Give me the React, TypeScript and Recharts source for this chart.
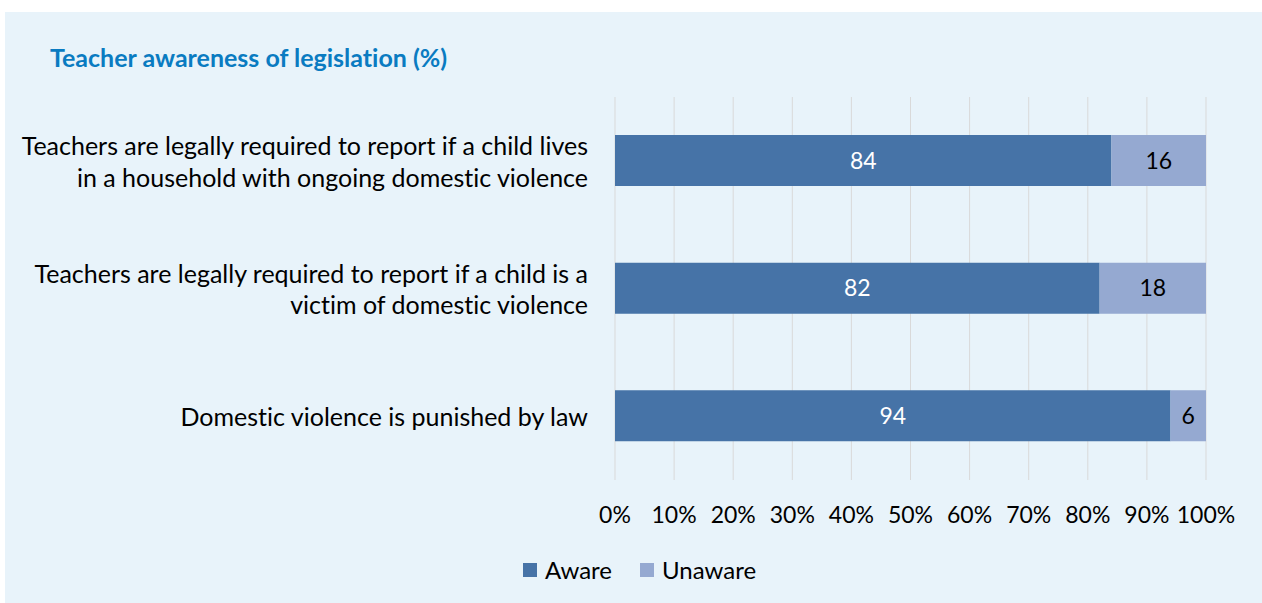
import { Bar, BarChart, CartesianGrid, LabelList, Legend, XAxis, YAxis } from "recharts";

// 类目（换行处用 \n 分开，按 Excel 原图的折行位置）
const categories = [
  "Teachers are legally required to report if a child lives\nin a household with ongoing domestic violence",
  "Teachers are legally required to report if a child is a\nvictim of domestic violence",
  "Domestic violence is punished by law",
];
const aware = [84, 82, 94];
const unaware = [16, 18, 6];
const xTicks = [0, 10, 20, 30, 40, 50, 60, 70, 80, 90, 100];

const data = categories.map((c, i) => ({ category: c, aware: aware[i], unaware: unaware[i] }));

const FONT = "Lato, 'Open Sans', sans-serif";
const AWARE_COLOR = "#4673A7";
const UNAWARE_COLOR = "#95A9D1";
const NO_LIGA = { fontVariantLigatures: "none" } as const;

function CategoryTick({ x, y, payload }: any) {
  const lines = String(payload.value).split("\n");
  return (
    <text textAnchor="end" fontFamily={FONT} fontSize={25} fill="#000" style={NO_LIGA}>
      {lines.map((l, i) => (
        <tspan key={i} x={x} y={y + (i - (lines.length - 1) / 2) * 31.5} dominantBaseline="central">
          {l}
        </tspan>
      ))}
    </text>
  );
}

function PercentTick({ x, y, payload }: any) {
  return (
    <text x={x} y={y} dy={34} textAnchor="middle" dominantBaseline="central" fontFamily={FONT} fontSize={23} fill="#000">
      {`${payload.value}%`}
    </text>
  );
}

function LegendContent({ payload }: any) {
  return (
    <div style={{ display: "flex", justifyContent: "center", gap: 28, fontFamily: FONT, fontSize: 24, lineHeight: "26px", color: "#000" }}>
      {(payload ?? []).map((p: any) => (
        <span key={p.value} style={{ display: "flex", alignItems: "center" }}>
          <span style={{ width: 14, height: 14, background: p.color, marginRight: 8, display: "inline-block" }} />
          {p.value}
        </span>
      ))}
    </div>
  );
}

export default function App() {
  return (
    <div style={{ position: "absolute", left: 0, top: 0, width: 1262, height: 603, background: "#fff" }}>
      <div style={{ position: "absolute", left: 5, top: 12, width: 1257, height: 591, background: "#E8F3FA" }}>
        <div
          style={{
            position: "absolute",
            left: 45,
            top: 31,
            fontFamily: FONT,
            fontWeight: 700,
            fontSize: 25,
            lineHeight: "28px",
            color: "#0A7BC1",
            whiteSpace: "nowrap",
            ...NO_LIGA,
          }}
        >
          Teacher awareness of legislation (%)
        </div>
        <BarChart
          width={1257}
          height={591}
          data={data}
          layout="vertical"
          margin={{ top: 85, right: 56, bottom: 73, left: 0 }}
          barSize={51}
        >
          <CartesianGrid horizontal={false} stroke="#D9D9D9" />
          <XAxis
            type="number"
            domain={[0, 100]}
            ticks={xTicks}
            axisLine={false}
            tickLine={false}
            tickSize={0}
            tickMargin={0}
            height={50}
            interval={0}
            tick={<PercentTick />}
          />
          <YAxis
            type="category"
            dataKey="category"
            width={610}
            axisLine={false}
            tickLine={false}
            tickSize={0}
            tickMargin={27}
            interval={0}
            tick={<CategoryTick />}
          />
          <Legend
            layout="horizontal"
            verticalAlign="middle"
            align="center"
            wrapperStyle={{ top: 545, left: 6, width: 1257 }}
            content={<LegendContent />}
          />
          <Bar dataKey="aware" name="Aware" stackId="a" fill={AWARE_COLOR} isAnimationActive={false}>
            <LabelList dataKey="aware" position="center" fill="#fff" fontSize={23} fontFamily={FONT} />
          </Bar>
          <Bar dataKey="unaware" name="Unaware" stackId="a" fill={UNAWARE_COLOR} isAnimationActive={false}>
            <LabelList dataKey="unaware" position="center" fill="#000" fontSize={23} fontFamily={FONT} />
          </Bar>
        </BarChart>
      </div>
    </div>
  );
}
